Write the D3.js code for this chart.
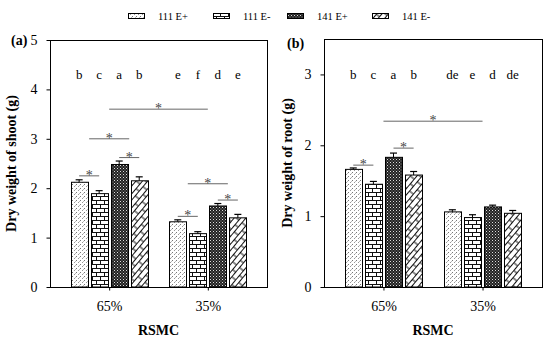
<!DOCTYPE html>
<html>
<head>
<meta charset="utf-8">
<script src="https://cdn.jsdelivr.net/npm/d3@7"></script>
<style>
  body { margin: 0; background: #fff; }
  svg, svg text { font-family: "Liberation Serif", "Times New Roman", Times, serif !important; }
</style>
</head>
<body>
<div id="cnv"></div>
<script>
var width = 550, height = 345;

// data
var groups = ["65%", "35%"];
var series = ["111 E+", "111 E-", "141 E+", "141 E-"];
var patterns = ["stipple", "brick", "checker", "diag"];

var shootMean = [[2.12, 1.89, 2.48, 2.15], [1.32, 1.08, 1.64, 1.40]];
var shootErr = [[0.05, 0.06, 0.07, 0.08], [0.04, 0.04, 0.05, 0.07]];
var shootLetters = [["b", "c", "a", "b"], ["e", "f", "d", "e"]];
// significance bars: [group, bar] to [group, bar], height
var shootSig = [
  {from: [0, 0], to: [0, 1], y: 2.25},
  {from: [0, 2], to: [0, 3], y: 2.62},
  {from: [0, 0.5], to: [0, 2.5], y: 3.0},
  {from: [0, 1.5], to: [1, 1.5], y: 3.6},
  {from: [1, 0.5], to: [1, 2.5], y: 2.09},
  {from: [1, 2], to: [1, 3], y: 1.76},
  {from: [1, 0], to: [1, 1], y: 1.43}
];

var rootMean = [[1.66, 1.45, 1.83, 1.58], [1.06, 0.98, 1.13, 1.04]];
var rootErr = [[0.02, 0.04, 0.06, 0.05], [0.03, 0.04, 0.025, 0.04]];
var rootLetters = [["b", "c", "a", "b"], ["de", "e", "d", "de"]];
var rootSig = [
  {from: [0, 0], to: [0, 1], y: 1.72},
  {from: [0, 2], to: [0, 3], y: 1.96},
  {from: [0, 1.5], to: [1, 1.5], y: 2.34}
];

var svg = d3.select("#cnv").append("svg")
  .attr("width", width)
  .attr("height", height);

//patterns
var defs = svg.append("defs");

var p1 = defs.append("pattern").attr("id", "stipple")
  .attr("patternUnits", "userSpaceOnUse").attr("width", 4).attr("height", 4);
p1.append("rect").attr("width", 4).attr("height", 4).attr("fill", "#fff");
p1.append("rect").attr("x", 0).attr("y", 0).attr("width", 1).attr("height", 1).attr("fill", "#777");
p1.append("rect").attr("x", 2).attr("y", 2).attr("width", 1).attr("height", 1).attr("fill", "#999");
p1.append("rect").attr("x", 3).attr("y", 1).attr("width", 1).attr("height", 1).attr("fill", "#bbb");

var p2 = defs.append("pattern").attr("id", "brick")
  .attr("patternUnits", "userSpaceOnUse").attr("width", 8).attr("height", 8);
p2.append("rect").attr("width", 8).attr("height", 8).attr("fill", "#fff");
p2.append("path")
  .attr("d", "M0,0.5H8M0,4.5H8M0.5,0V4.5M4.5,4.5V8")
  .attr("stroke", "#111").attr("stroke-width", 1).attr("fill", "none");

var p3 = defs.append("pattern").attr("id", "checker")
  .attr("patternUnits", "userSpaceOnUse").attr("width", 3).attr("height", 3);
p3.append("rect").attr("width", 3).attr("height", 3).attr("fill", "#222");
p3.append("rect").attr("x", 0).attr("y", 0).attr("width", 1).attr("height", 1).attr("fill", "#ddd");
p3.append("rect").attr("x", 1.5).attr("y", 1.5).attr("width", 1).attr("height", 1).attr("fill", "#999");

var p4 = defs.append("pattern").attr("id", "diag")
  .attr("patternUnits", "userSpaceOnUse").attr("width", 12).attr("height", 9)
  .attr("patternTransform", "rotate(-50)");
p4.append("rect").attr("width", 12).attr("height", 9).attr("fill", "#fff");
p4.append("path")
  .attr("d", "M0,0.5H12M0,4.5H12M3,0.5V4.5M9,4.5V9")
  .attr("stroke", "#111").attr("stroke-width", 1).attr("fill", "none");

//legend
var legX = [128, 213, 287, 372];
series.forEach(function(s, i) {
  svg.append("rect")
    .attr("x", legX[i] + 0.5).attr("y", 13.5)
    .attr("width", 16).attr("height", 5)
    .attr("fill", "url(#" + patterns[i] + ")")
    .attr("stroke", "#000").attr("stroke-width", 1);
  svg.append("text")
    .attr("x", legX[i] + 30).attr("y", 19.5)
    .attr("font-size", 10.5)
    .text(s);
});

drawPanel({
  left: 50, right: 267, top: 40, bottom: 287,
  ymax: 5, ticks: [0, 1, 2, 3, 4, 5], letterY: 4.22,
  tag: "(a)", tagX: 11, tagY: 45,
  title: "Dry weight of shoot (g)", titleX: 16,
  mean: shootMean, err: shootErr, letters: shootLetters, sig: shootSig
});
drawPanel({
  left: 324, right: 542, top: 39, bottom: 287,
  ymax: 3.5, ticks: [0, 1, 2, 3], letterY: 2.93,
  tag: "(b)", tagX: 287, tagY: 48,
  title: "Dry weight of root (g)", titleX: 292,
  mean: rootMean, err: rootErr, letters: rootLetters, sig: rootSig
});

function drawPanel(p) {
  var g = svg.append("g");

  var x0 = d3.scaleBand()
    .domain(groups)
    .range([p.left, p.right])
    .paddingInner(0.2)
    .paddingOuter(0.2);
  var x1 = d3.scaleBand()
    .domain(series)
    .range([0, x0.bandwidth()])
    .paddingInner(0.14)
    .paddingOuter(0.04);
  var y = d3.scaleLinear()
    .domain([0, p.ymax])
    .range([p.bottom, p.top]);

  function barCenter(gi, b) {
    return x0(groups[gi]) + x1(series[0]) + b * x1.step() + x1.bandwidth() / 2;
  }

  var rows = [];
  groups.forEach(function(gr, gi) {
    series.forEach(function(s, si) {
      rows.push({g: gi, s: si, v: p.mean[gi][si], e: p.err[gi][si], l: p.letters[gi][si]});
    });
  });

  //bars
  g.selectAll(".bar").data(rows).enter().append("rect")
    .attr("class", "bar")
    .attr("x", function(d) { return Math.round(x0(groups[d.g]) + x1(series[d.s])) + 0.5; })
    .attr("y", function(d) { return y(d.v); })
    .attr("width", Math.round(x1.bandwidth()))
    .attr("height", function(d) { return y(0) - y(d.v); })
    .attr("fill", function(d) { return "url(#" + patterns[d.s] + ")"; })
    .attr("stroke", "#000")
    .attr("stroke-width", 1);

  //error bars
  var eb = g.selectAll(".err").data(rows).enter().append("g").attr("class", "err");
  eb.append("line")
    .attr("x1", function(d) { return barCenter(d.g, d.s); })
    .attr("x2", function(d) { return barCenter(d.g, d.s); })
    .attr("y1", function(d) { return y(d.v); })
    .attr("y2", function(d) { return y(d.v + d.e); })
    .attr("stroke", "#000");
  eb.append("line")
    .attr("x1", function(d) { return barCenter(d.g, d.s) - 3.5; })
    .attr("x2", function(d) { return barCenter(d.g, d.s) + 3.5; })
    .attr("y1", function(d) { return y(d.v + d.e); })
    .attr("y2", function(d) { return y(d.v + d.e); })
    .attr("stroke", "#000")
    .attr("stroke-width", 1.2);

  //letters
  g.selectAll(".letter").data(rows).enter().append("text")
    .attr("class", "letter")
    .attr("x", function(d) { return barCenter(d.g, d.s); })
    .attr("y", y(p.letterY))
    .attr("text-anchor", "middle")
    .attr("font-size", 13)
    .text(function(d) { return d.l; });

  //significance
  var sg = g.selectAll(".sig").data(p.sig).enter().append("g").attr("class", "sig");
  sg.append("line")
    .attr("x1", function(d) { return barCenter(d.from[0], d.from[1]); })
    .attr("x2", function(d) { return barCenter(d.to[0], d.to[1]); })
    .attr("y1", function(d) { return y(d.y); })
    .attr("y2", function(d) { return y(d.y); })
    .attr("stroke", "#666")
    .attr("stroke-width", 1);
  sg.append("text")
    .attr("x", function(d) { return (barCenter(d.from[0], d.from[1]) + barCenter(d.to[0], d.to[1])) / 2; })
    .attr("y", function(d) { return y(d.y) + 4; })
    .attr("text-anchor", "middle")
    .attr("font-size", 14)
    .attr("fill", "#444")
    .text("*");

  //frame
  g.append("rect")
    .attr("x", p.left + 0.5).attr("y", p.top + 0.5)
    .attr("width", p.right - p.left).attr("height", p.bottom - p.top)
    .attr("fill", "none")
    .attr("stroke", "#000")
    .attr("stroke-width", 1);

  //axes
  var yAxis = g.append("g")
    .attr("transform", "translate(" + (p.left + 0.5) + ",0)")
    .call(d3.axisLeft(y).tickValues(p.ticks).tickFormat(d3.format("d")).tickSize(4).tickPadding(9));
  yAxis.select(".domain").remove();
  yAxis.selectAll("text").attr("font-size", 14);

  var xAxis = g.append("g")
    .attr("transform", "translate(0," + (p.bottom + 0.5) + ")")
    .call(d3.axisBottom(d3.scalePoint().domain(groups).range([barCenter(0, 1.5), barCenter(1, 1.5)]))
      .tickSize(3).tickPadding(11));
  xAxis.select(".domain").remove();
  xAxis.selectAll("text").attr("font-size", 14);

  //titles
  g.append("text")
    .attr("x", (p.left + p.right) / 2).attr("y", 335)
    .attr("text-anchor", "middle")
    .attr("font-size", 14).attr("font-weight", "bold")
    .text("RSMC");
  g.append("text")
    .attr("transform", "translate(" + p.titleX + "," + ((p.top + p.bottom) / 2) + "), rotate(-90)")
    .attr("text-anchor", "middle")
    .attr("font-size", 14).attr("font-weight", "bold")
    .text(p.title);
  g.append("text")
    .attr("x", p.tagX).attr("y", p.tagY)
    .attr("font-size", 14).attr("font-weight", "bold")
    .text(p.tag);
}
</script>
</body>
</html>
